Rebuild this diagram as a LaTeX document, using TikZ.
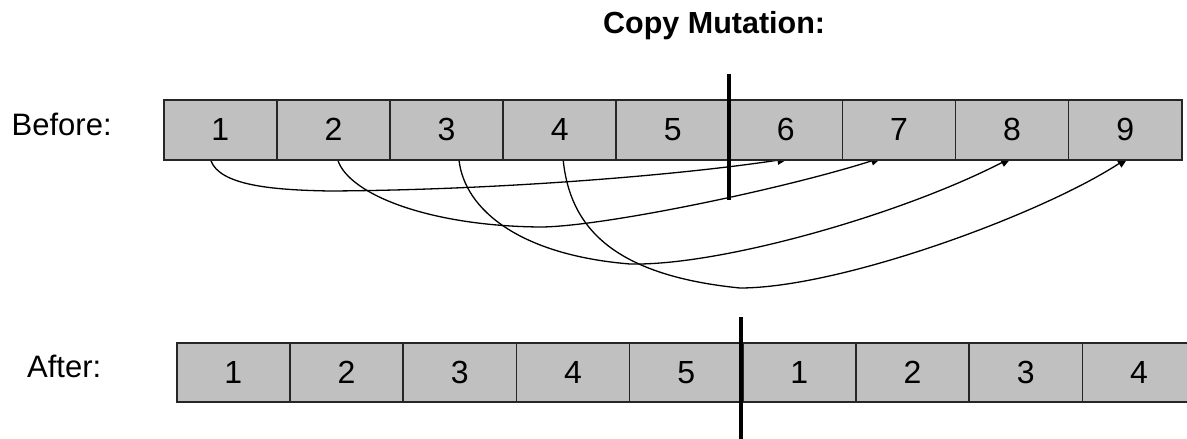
\documentclass[tikz,border=0pt]{standalone}
\usepackage{fontspec}
\setmainfont{Liberation Sans}
\usetikzlibrary{arrows.meta}
\pgfdeclarelayer{background}
\pgfsetlayers{background,main}
\definecolor{cellgray}{HTML}{C0C0C0}
\definecolor{edgegray}{HTML}{262626}
\begin{document}
\begin{tikzpicture}[x=1pt,y=-1pt,
  cell/.style={draw=edgegray, line width=1.6pt, fill=cellgray, minimum width=113.1pt,
    minimum height=60pt, inner sep=0pt, anchor=north west,
    font=\fontsize{32}{32}\selectfont},
  label/.style={anchor=base west, inner sep=0pt, font=\fontsize{31}{31}\selectfont},
  title/.style={anchor=base west, inner sep=0pt, font=\fontsize{30.5}{30.5}\selectfont\bfseries},
  link/.style={draw=black, line width=1.3pt, -{Triangle[length=11pt,width=9pt]}},
  divider/.style={draw=black, line width=3.6pt}]
\useasboundingbox (0,0) rectangle (1187,439);

\node[title] (title) at (603,34) {Copy Mutation:};
\node[label] (before) at (11.5,135) {Before:};
\node[label] (after) at (27,377) {After:};

\foreach \i in {1,...,9}
  \node[cell] (b\i) at ({163+(\i-1)*113.1},99) {\i};
\foreach \i/\t in {1/1,2/2,3/3,4/4,5/5,6/1,7/2,8/3,9/4}
  \node[cell, minimum height=59pt] (a\i) at ({176+(\i-1)*113.2},342) {\t};

\begin{pgfonlayer}{background}
\draw[link] ([xshift=-9.5pt]b1.south) .. controls (220,185) and (270,190) .. (330,191)
  .. controls (500,190) and (680,175) .. ([xshift=2.5pt,yshift=2pt]b6.south);
\draw[link] ([xshift=4.5pt]b2.south) .. controls (350,195) and (430,226) .. (540,227)
  .. controls (600,227) and (780,190) .. ([xshift=-17pt,yshift=3pt]b7.south);
\draw[link] ([xshift=12.5pt]b3.south) .. controls (465,210) and (520,255) .. (630,264)
  .. controls (720,266) and (900,215) .. ([xshift=-0.5pt,yshift=3pt]b8.south);
\draw[link] ([xshift=3.6pt]b4.south) .. controls (570,225) and (610,275) .. (740,288)
  .. controls (840,288) and (1040,215) .. ([xshift=3pt,yshift=3pt]b9.south);
\end{pgfonlayer}

\coordinate (dtop1) at (729,74);
\coordinate (dbot1) at (729,200);
\draw[divider] (dtop1) -- (dbot1);
\coordinate (dtop2) at (741,317);
\coordinate (dbot2) at (741,445);
\draw[divider] (dtop2) -- (dbot2);
\end{tikzpicture}
\end{document}
